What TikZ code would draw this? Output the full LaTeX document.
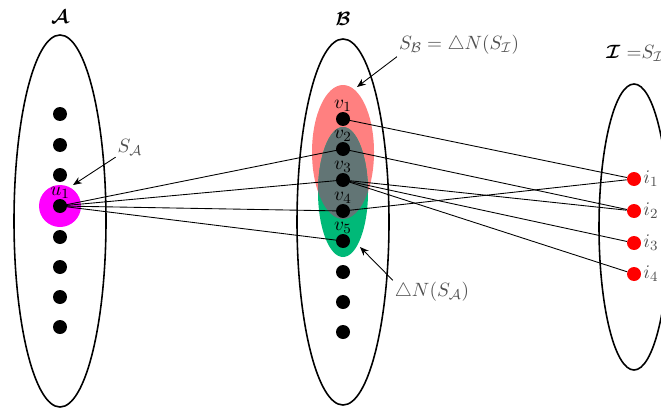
\documentclass[tikz,border=0pt]{standalone}
\usepackage{amsmath,amssymb}
\usetikzlibrary{positioning,calc}
\usetikzlibrary{arrows.meta}
\definecolor{SetRed}{RGB}{255,128,128}
\definecolor{SetGreen}{RGB}{0,185,120}
\definecolor{SetGray}{RGB}{98,117,117}
\definecolor{SetMagenta}{RGB}{255,0,255}
\definecolor{DotRed}{RGB}{255,0,0}
\definecolor{LabelGray}{RGB}{80,80,80}
\tikzset{
  every node/.style={font=\fontsize{11}{13}\selectfont},
  dot/.style={circle,fill=black,inner sep=0pt,minimum size=0.28cm},
  idot/.style={circle,fill=DotRed,inner sep=0pt,minimum size=0.28cm},
  setline/.style={draw=black,line width=0.9pt},
  edge/.style={draw=black,line width=0.5pt},
  pointer/.style={draw=black,line width=0.5pt,-{Stealth[length=5pt,width=4pt]}},
  glabel/.style={text=LabelGray,inner sep=1pt},
}

\begin{document}
\begin{tikzpicture}[x=0.02cm,y=-0.02cm]
\useasboundingbox (0,0) rectangle (661,412);
% highlighted parts
\fill[SetRed] (343,152) ellipse [x radius=31,y radius=67];
\fill[SetGreen] (343,192) ellipse [x radius=25,y radius=65];
\begin{scope}
\clip (343,152) ellipse [x radius=31,y radius=67];
\fill[SetGray] (343,192) ellipse [x radius=25,y radius=65];
\end{scope}
\fill[SetMagenta] (60,206) circle [radius=21];
% the three sets
\draw[setline] (60,221) ellipse [x radius=46,y radius=186];
\draw[setline] (343,222) ellipse [x radius=46,y radius=183];
\draw[setline] (634,227) ellipse [x radius=35,y radius=143];
\node (setA) at (60,17) {$\boldsymbol{\mathcal{A}}$};
\node (setB) at (343,19) {$\boldsymbol{\mathcal{B}}$};
\node[anchor=west,inner sep=0pt] (setI) at (606,53) {$\boldsymbol{\mathcal{I}}$ \textcolor{LabelGray}{$\mathord{=}S_{\mathcal{I}}$}};
% vertices
\foreach \k/\y in {1/114,2/145,3/175,4/206,5/237,6/267,7/297,8/327}
  \node[dot] (a\k) at (60,\y) {};
\foreach \k/\y in {1/119,2/149,3/180,4/211,5/241,6/272,7/302,8/332}
  \node[dot] (b\k) at (343,\y) {};
\foreach \k/\y in {1/179,2/211,3/243,4/274}
  \node[idot,label={[glabel]right:$i_{\k}$}] (i\k) at (634,\y) {};
\node[above=0pt of a4,inner sep=0pt] (u1) {$u_1$};
\foreach \k in {1,...,5}
  \node[above=0pt of b\k,inner sep=0pt] (v\k) {$v_{\k}$};
% edges
\foreach \k in {2,3,4,5}
  \draw[edge] (a4.center) -- (b\k.center);
\foreach \s/\t in {1/1,2/2,3/2,3/3,3/4,4/1}
  \draw[edge] (b\s.center) -- (i\t);
% pointers
\node[glabel] (sA) at (130,147) {$S_{\mathcal{A}}$};
\coordinate (sAtip) at (73,185);
\draw[pointer] (sA.south west) -- (sAtip);
\node[glabel] (sB) at (459,45) {$S_{\mathcal{B}}=\triangle N(S_{\mathcal{I}})$};
\coordinate (sBtip) at (357,87);
\draw[pointer] (sB.south west) -- (sBtip);
\node[glabel] (nA) at (432,292) {$\triangle N(S_{\mathcal{A}})$};
\coordinate (nAtip) at (360,247);
\draw[pointer] (nA.north west) -- (nAtip);
\end{tikzpicture}
\end{document}
